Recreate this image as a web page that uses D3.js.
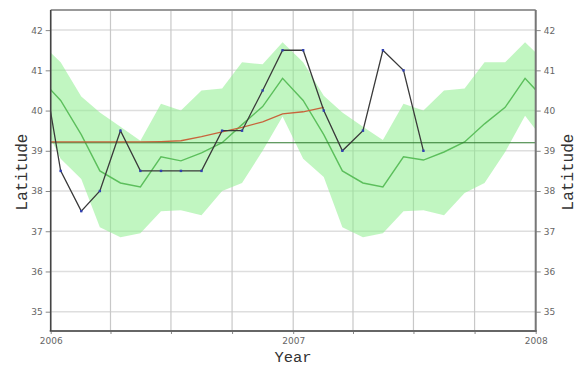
<!DOCTYPE html>
<html><head><meta charset="utf-8">
<script src="https://cdn.jsdelivr.net/npm/d3@7"></script>
<style>body{margin:0;background:#fff}</style>
</head><body><svg id="c" width="582" height="367"></svg>
<script>
// Observed latitude (monthly)
const obsMonths = ["2005-12","2006-01","2006-02","2006-03","2006-04","2006-05","2006-06","2006-07","2006-08","2006-09","2006-10","2006-11","2006-12","2007-01","2007-02","2007-03","2007-04","2007-05","2007-06","2007-07"];
const obsLat = [41.5,38.5,37.5,38.0,39.5,38.5,38.5,38.5,38.5,39.5,39.5,40.5,41.5,41.5,40.0,39.0,39.5,41.5,41.0,39.0];
// Running mean
const runMonths = ["2005-12","2006-01","2006-02","2006-03","2006-04","2006-05","2006-06","2006-07","2006-08","2006-09","2006-10","2006-11","2006-12","2007-01","2007-02"];
const runLat = [39.22,39.22,39.22,39.22,39.22,39.22,39.23,39.25,39.35,39.47,39.58,39.72,39.92,39.97,40.08];
// Climatology
const climMonths = ["2005-12","2006-01","2006-02","2006-03","2006-04","2006-05","2006-06","2006-07","2006-08","2006-09","2006-10","2006-11","2006-12","2007-01","2007-02","2007-03","2007-04","2007-05","2007-06","2007-07","2007-08","2007-09","2007-10","2007-11","2007-12","2008-01"];
const climMean = [40.8,40.25,39.4,38.5,38.2,38.1,38.85,38.75,38.95,39.2,39.65,40.1,40.8,40.25,39.4,38.5,38.2,38.1,38.85,38.77,38.97,39.22,39.67,40.08,40.8,40.25];
const climHigh = [41.7,41.2,40.35,39.95,39.6,39.25,40.17,40.0,40.5,40.55,41.2,41.15,41.7,41.2,40.37,39.95,39.6,39.27,40.17,40.0,40.5,40.55,41.2,41.2,41.7,41.2];
const climLow = [39.85,38.8,38.3,37.1,36.85,36.95,37.5,37.52,37.4,38.0,38.2,39.0,39.85,38.8,38.35,37.1,36.85,36.95,37.5,37.52,37.4,37.95,38.2,38.97,39.87,39.2];
const overallMean = 39.2;
const yTicks = [35,36,37,38,39,40,41,42];
const xLabels = ["2006","2007","2008"];

const svg = d3.select("#c");
const L = 50.7, R = 535.7, T = 10, B = 331;
const parse = d3.timeParse("%Y-%m");
const mid = s => { const d = parse(s); return new Date(d.getFullYear(), d.getMonth(), 16); };
const x = d3.scaleTime().domain([new Date(2006,0,1), new Date(2008,0,1)]).range([L, R]);
const y = d3.scaleLinear().domain([34.52, 42.5]).range([B, T]);

svg.append("defs").append("clipPath").attr("id","clip").append("rect")
  .attr("x", L).attr("y", T).attr("width", R-L).attr("height", B-T);

// grid
const quarters = d3.timeMonth.every(3).range(new Date(2006,0,1), new Date(2008,0,2));
svg.append("g").selectAll("line").data(yTicks).join("line")
  .attr("x1", L).attr("x2", R).attr("y1", d => y(d)).attr("y2", d => y(d))
  .attr("stroke", "#dedede").attr("stroke-width", 1.5);
svg.append("g").selectAll("line").data(quarters).join("line")
  .attr("x1", d => x(d)).attr("x2", d => x(d)).attr("y1", T).attr("y2", B)
  .attr("stroke", "#c8c8c8").attr("stroke-width", 1.2);

const plot = svg.append("g").attr("clip-path", "url(#clip)");
const clim = climMonths.map((m,i) => ({d: mid(m), m: climMean[i], h: climHigh[i], l: climLow[i]}));
plot.append("path").datum(clim)
  .attr("d", d3.area().x(d => x(d.d)).y0(d => y(d.l)).y1(d => y(d.h)))
  .attr("fill", "#8eee8e").attr("fill-opacity", 0.55);
plot.append("path").datum(clim)
  .attr("d", d3.line().x(d => x(d.d)).y(d => y(d.m)))
  .attr("fill", "none").attr("stroke", "#5cbf5c").attr("stroke-width", 1.4);

plot.append("line").attr("x1", L).attr("x2", R).attr("y1", y(overallMean)).attr("y2", y(overallMean))
  .attr("stroke", "#2f7a2f").attr("stroke-width", 1.2);

const run = runMonths.map((m,i) => ({d: mid(m), v: runLat[i]}));
plot.append("path").datum(run)
  .attr("d", d3.line().x(d => x(d.d)).y(d => y(d.v)))
  .attr("fill", "none").attr("stroke", "#c8643c").attr("stroke-width", 1.3);

const obs = obsMonths.map((m,i) => ({d: mid(m), v: obsLat[i]}));
plot.append("path").datum(obs)
  .attr("d", d3.line().x(d => x(d.d)).y(d => y(d.v)))
  .attr("fill", "none").attr("stroke", "#3a3a3a").attr("stroke-width", 1.3);
plot.append("g").selectAll("rect").data(obs).join("rect")
  .attr("x", d => x(d.d)-1.2).attr("y", d => y(d.v)-1.2).attr("width", 2.4).attr("height", 2.4)
  .attr("fill", "#3040b0");

// axes
const fmt = d3.format("d");
const axL = svg.append("g").attr("transform", `translate(${L},0)`)
  .call(d3.axisLeft(y).tickValues(yTicks).tickFormat(fmt).tickSize(5).tickPadding(3));
const axR = svg.append("g").attr("transform", `translate(${R},0)`)
  .call(d3.axisRight(y).tickValues(yTicks).tickFormat(fmt).tickSize(5).tickPadding(3));
const axB = svg.append("g").attr("transform", `translate(0,${B})`)
  .call(d3.axisBottom(x).tickValues(quarters).tickSize(3).tickPadding(4)
    .tickFormat(d => d.getMonth() === 0 ? xLabels[d.getFullYear()-2006] : ""));
[axL, axR, axB].forEach(a => {
  a.select(".domain").remove();
  a.selectAll(".tick line").attr("stroke", "#888");
  a.selectAll(".tick text").attr("fill", "#666").style("font-family", "DejaVu Sans").style("font-size", "9px");
});

// frame
svg.append("line").attr("x1", L).attr("x2", R).attr("y1", T).attr("y2", T).attr("stroke", "#999").attr("stroke-width", 2);
svg.append("line").attr("x1", R).attr("x2", R).attr("y1", T).attr("y2", B).attr("stroke", "#777").attr("stroke-width", 2);
svg.append("line").attr("x1", L-1).attr("x2", R+1).attr("y1", B).attr("y2", B).attr("stroke", "#666").attr("stroke-width", 2);
svg.append("line").attr("x1", L).attr("x2", L).attr("y1", T).attr("y2", B).attr("stroke", "#444").attr("stroke-width", 1.6);

// titles
const tf = "'Liberation Mono', 'DejaVu Sans Mono', monospace";
svg.append("text").attr("x", 293).attr("y", 362).attr("text-anchor", "middle")
  .style("font-family", tf).style("font-size", "15.5px").attr("fill", "#333").text("Year");
svg.append("text").attr("transform", "translate(27,172) rotate(-90)").attr("text-anchor", "middle")
  .style("font-family", tf).style("font-size", "16px").attr("fill", "#333").text("Latitude");
svg.append("text").attr("transform", "translate(573,172) rotate(-90)").attr("text-anchor", "middle")
  .style("font-family", tf).style("font-size", "16px").attr("fill", "#333").text("Latitude");
</script></body></html>
